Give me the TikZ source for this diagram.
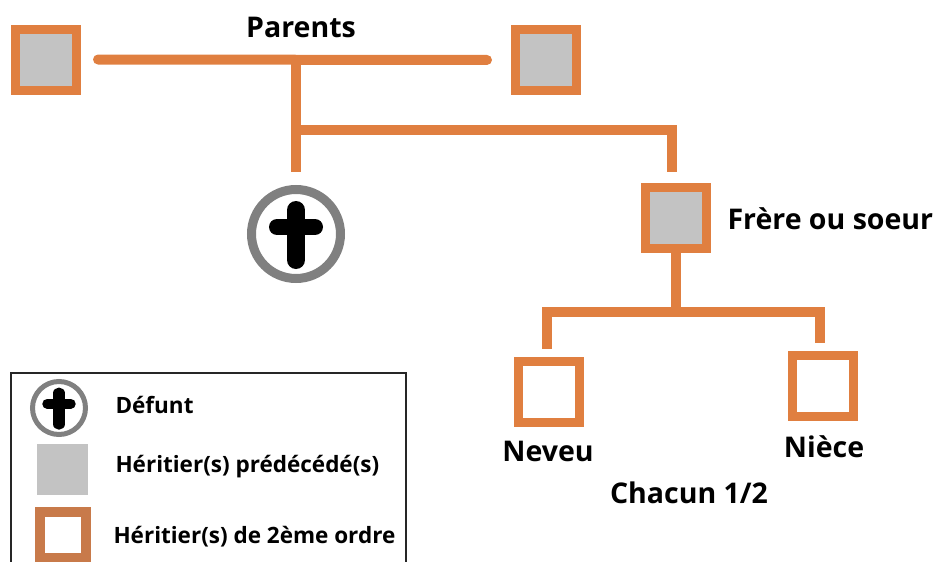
\documentclass[tikz,border=0pt]{standalone}
\usepackage{fontspec}
\setmainfont{Open Sans}
\tikzstyle{lien}=[line width=10pt,color=orangeL]
\tikzstyle{heritier}=[draw=orangeL,line width=9pt,rectangle,minimum size=61pt,inner sep=0pt]
\tikzstyle{predecede}=[heritier,fill=grisH]
\tikzstyle{defunt}=[draw=grisC,fill=white,circle,line width=9pt,minimum size=89pt,inner sep=0pt]
\tikzstyle{every node}=[font=\bfseries,text=black]
\tikzstyle{titre}=[font=\fontsize{28.5}{32}\bfseries]
\tikzstyle{legende}=[font=\fontsize{22.5}{26}\bfseries,anchor=west]
\definecolor{orangeL}{HTML}{E07F40}
\definecolor{orangeF}{HTML}{C87A4A}
\definecolor{grisH}{HTML}{C3C3C3}
\definecolor{grisC}{HTML}{808080}
\usetikzlibrary{calc}
\newcommand{\croix}[2]{%
  \draw[line cap=round,line width=#2*18pt,black] ($(#1)+(0,-#2*24)$)--($(#1)+(0,#2*26)$);
  \draw[line cap=round,line width=#2*16pt,black] ($(#1)+(-#2*19,-#2*7)$)--($(#1)+(#2*19,-#2*7)$);
}
\begin{document}
\begin{tikzpicture}[x=1pt,y=-1pt]
    \useasboundingbox (0,0) rectangle (938,562);
    % parents
    \node[predecede] (pere) at (46,59.5) {};
    \node[predecede] (mere) at (546,60) {};
    \node[titre] (parents) at (301,27) {Parents};
    \node[defunt] (mort) at (296,234) {};
    \croix{mort}{1}
    % fratrie
    \node[predecede] (frere) at (676,218) {};
    \node[titre,anchor=west] (frerelabel) at (724,219) {Frère ou soeur};
    \node[heritier] (neveu) at (548.5,391.5) {};
    \node[heritier] (niece) at (823,385.5) {};
    \node[titre] (neveulabel) at (548,451) {Neveu};
    \node[titre] (niecelabel) at (824,447) {Nièce};
    \node[titre] (chacun) at (689,493) {Chacun 1/2};
    % liens
    \coordinate (milieu) at (296,59.5);
    \coordinate (branche) at (296,130);
    \coordinate (coude) at (672,130);
    \coordinate (fourche) at (676,312);
    \coordinate (gauche) at (547,312);
    \coordinate (droite) at (820,312);
    \draw[lien,line cap=round,shorten <=17pt,shorten >=24pt] (pere.east)--(mere.west);
    \draw[lien,shorten >=13pt] (milieu)--(mort.north);
    \draw[lien,shorten >=11pt] (branche)--(coude)--(coude|-frere.north);
    \draw[lien] (frere.south)--(fourche);
    \draw[lien,shorten <=8pt,shorten >=8pt] (gauche|-neveu.north)--(gauche)--(droite)--(droite|-niece.north);
    % legende
    \coordinate (cadreA) at (11,562);
    \coordinate (cadreB) at (11,373);
    \coordinate (cadreC) at (406,373);
    \coordinate (cadreD) at (406,562);
    \draw[line width=1.5pt,black!85] (cadreA)--(cadreB)--(cadreC)--(cadreD);
    \node[defunt,line width=5pt,minimum size=53pt] (mortL) at (59,408) {};
    \croix{mortL}{.62}
    \node[fill=grisH,minimum size=51pt,inner sep=0pt] (grisL) at (62,469.5) {};
    \node[draw=orangeF,line width=10pt,minimum size=46pt,inner sep=0pt] (orangeL) at (63,535) {};
    \node[legende] (t1) at (112,405) {Défunt};
    \node[legende] (t2) at (112,467) {Héritier(s) prédécédé(s)};
    \node[legende] (t3) at (110,537) {Héritier(s) de 2ème ordre};
\end{tikzpicture}
\end{document}
